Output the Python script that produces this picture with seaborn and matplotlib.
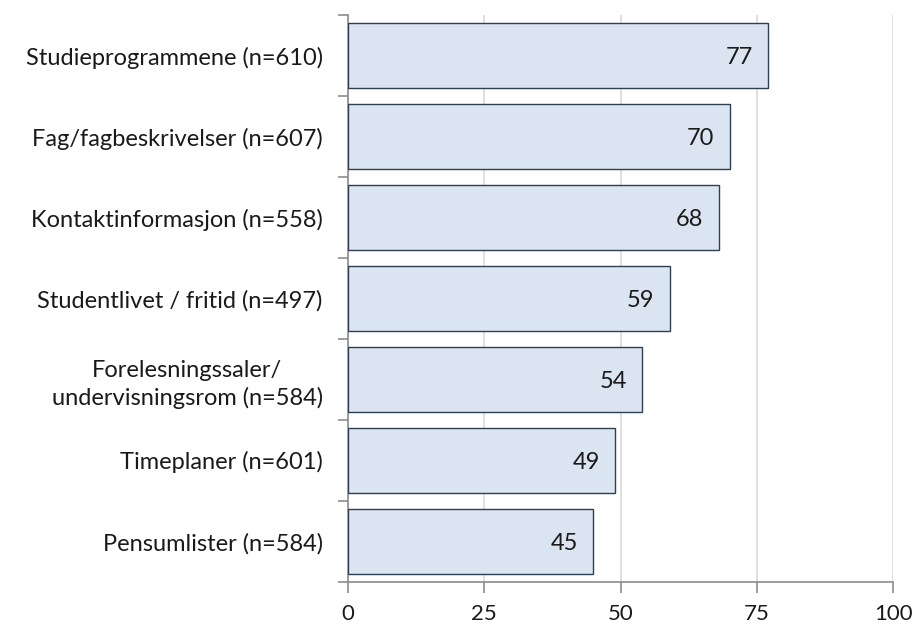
import numpy as np
import matplotlib.pyplot as plt
import pandas as pd
import seaborn as sns

categories = ['Studieprogrammene (n=610)', 'Fag/fagbeskrivelser (n=607)',
              'Kontaktinformasjon (n=558)', 'Studentlivet / fritid (n=497)',
              'Forelesningssaler/\nundervisningsrom (n=584)', 'Timeplaner (n=601)',
              'Pensumlister (n=584)']
values = [77, 70, 68, 59, 54, 49, 45]
xticks = [0, 25, 50, 75, 100]

df = pd.DataFrame({'kategori': categories, 'verdi': values})

sns.set_style('white')
plt.rcParams['font.family'] = ['Lato', 'DejaVu Sans']

fig = plt.figure(figsize=(9.2, 6.27), dpi=100)
ax = fig.add_axes([0.378, 0.072, 0.593, 0.904])

sns.barplot(data=df, x='verdi', y='kategori', orient='h', ax=ax,
            color='#dbe5f1', edgecolor='#2e3f52', linewidth=1.0,
            width=0.8, saturation=1, zorder=3)

ax.set_xlim(0, 100)
ax.set_ylim(len(categories) - 0.5, -0.5)
ax.set_xticks(xticks)
ax.set_xticklabels([str(t) for t in xticks], fontsize=16, color='#1a1a1a')
ax.set_xlabel('')
ax.set_ylabel('')
ax.set_yticks(np.arange(-0.5, len(categories), 1), minor=True)
ax.tick_params(axis='y', which='major', left=True, length=0, labelsize=17,
               labelcolor='#1a1a1a', pad=18)
ax.tick_params(axis='y', which='minor', left=True, length=7, color='#8c8c8c', width=1.2)
ax.tick_params(axis='x', which='major', bottom=True, length=8, color='#8c8c8c',
               width=1.2, pad=8)
for lab in ax.get_yticklabels():
    lab.set_multialignment('center')
    lab.set_linespacing(1.35)

ax.grid(axis='x', color='#d9d9d9', linewidth=1.2, zorder=0)
ax.set_axisbelow(True)
for s in ['top', 'right']:
    ax.spines[s].set_visible(False)
for s in ['left', 'bottom']:
    ax.spines[s].set_color('#8c8c8c')
    ax.spines[s].set_linewidth(1.2)

for i, v in enumerate(values):
    ax.text(v - 2.8, i + 0.03, str(v), ha='right', va='center', fontsize=17,
            color='#1a1a1a', zorder=4)

fig.savefig('out.png', dpi=100)
